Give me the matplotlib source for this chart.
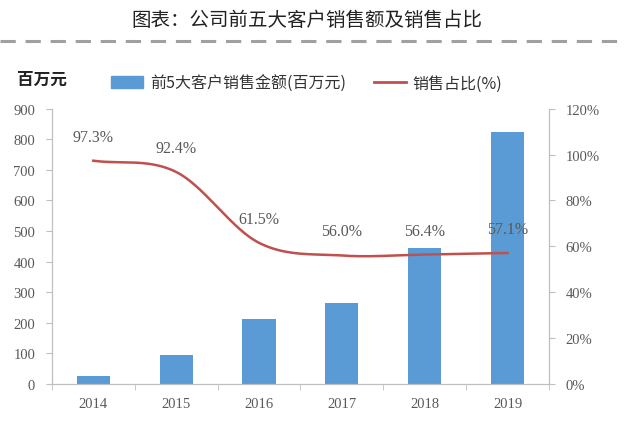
import numpy as np
import matplotlib
matplotlib.use("Agg")
import matplotlib.pyplot as plt
from matplotlib.lines import Line2D
from matplotlib.patches import Patch

years = ["2014", "2015", "2016", "2017", "2018", "2019"]
sales = [26, 95, 212, 265, 443, 822]
share = [97.3, 92.4, 61.5, 56.0, 56.4, 57.1]
share_labels = ["97.3%", "92.4%", "61.5%", "56.0%", "56.4%", "57.1%"]
left_ticks = [0, 100, 200, 300, 400, 500, 600, 700, 800, 900]
right_ticks = [0, 20, 40, 60, 80, 100, 120]

CJK = ["Noto Sans CJK SC", "DejaVu Sans"]
SERIF = ["Liberation Serif", "DejaVu Serif"]
GRAY = "#595959"
AX = "#BFBFBF"
BAR = "#5B9BD5"
RED = "#C0504D"

fig = plt.figure(figsize=(6.4, 4.31), dpi=100)
ax = fig.add_axes([0.081, 0.1067, 0.777, 0.639])
x = np.arange(len(years))
ax.bar(x, sales, width=0.4, color=BAR, zorder=2)
ax.set_xlim(-0.5, len(years) - 0.5)
ax.set_ylim(0, 900)
ax.set_yticks(left_ticks)
ax.set_yticklabels([str(v) for v in left_ticks], fontfamily=SERIF, fontsize=10.5, color=GRAY)
ax.set_xticks(x)
ax.set_xticklabels(years, fontfamily=SERIF, fontsize=10.5, color=GRAY)
ax.tick_params(axis="x", length=0, pad=9)
ax.set_xticks(np.arange(-0.5, len(years)), minor=True)
ax.tick_params(axis="x", which="minor", length=4, color=AX, direction="out")
ax.tick_params(axis="y", length=4, color=AX, pad=8)
ax.spines["top"].set_visible(False)
for s in ["left", "bottom", "right"]:
    ax.spines[s].set_color(AX)

ax2 = ax.twinx()
ax2.set_ylim(0, 120)
ax2.set_yticks(right_ticks)
ax2.set_yticklabels([f"{v}%" for v in right_ticks], fontfamily=SERIF, fontsize=10.5, color=GRAY)
ax2.tick_params(axis="y", length=4, color=AX, pad=8)
ax2.spines["top"].set_visible(False)
for s in ["left", "bottom", "right"]:
    ax2.spines[s].set_color(AX)

# smooth (Catmull-Rom) rendering through the data points
px = x.astype(float)
py = np.array(share, dtype=float)
P = np.vstack([px, py]).T
P = np.vstack([P[0] - (P[1] - P[0]), P, P[-1] + (P[-1] - P[-2])])
cx, cy = [], []
for i in range(1, len(P) - 2):
    p0, p1, p2, p3 = P[i - 1], P[i], P[i + 1], P[i + 2]
    t = np.linspace(0, 1, 40)[:, None]
    c = 0.5 * ((2 * p1) + (-p0 + p2) * t + (2 * p0 - 5 * p1 + 4 * p2 - p3) * t ** 2
               + (-p0 + 3 * p1 - 3 * p2 + p3) * t ** 3)
    cx.extend(c[:, 0]); cy.extend(c[:, 1])
ax2.plot(cx, cy, color=RED, lw=1.8, zorder=3)
for xi, yi, lab in zip(x, share, share_labels):
    ax2.annotate(lab, (xi, yi), xytext=(0, 24), textcoords="offset pixels",
                 ha="center", va="center", fontfamily=SERIF, fontsize=11.5, color=GRAY)

# title and decorations
fig.text(307 / 640, 1 - 20 / 431, "图表：公司前五大客户销售额及销售占比", ha="center", va="center",
         fontfamily=CJK, fontsize=14, color="#222222")
fig.add_artist(Line2D([0, 623 / 640], [1 - 42 / 431, 1 - 42 / 431], color="#A0A0A0", lw=2.2,
                      linestyle=(0, (5, 3.2))))
fig.text(17 / 640, 1 - 80 / 431, "百万元", ha="left", va="center", fontfamily=CJK,
         fontsize=12, fontweight="bold", color="#222222")
handles = [Patch(color=BAR, label="前5大客户销售金额(百万元)"),
           Line2D([0], [0], color=RED, lw=2, label="销售占比(%)")]
fig.legend(handles=handles, loc="center left", bbox_to_anchor=(97 / 640, 1 - 84 / 431),
           ncol=2, frameon=False, prop={"family": CJK, "size": 11.5}, labelcolor="#333333",
           handlelength=2.0, handleheight=0.8, columnspacing=1.8, handletextpad=0.4)

fig.savefig("out.png", dpi=100)
